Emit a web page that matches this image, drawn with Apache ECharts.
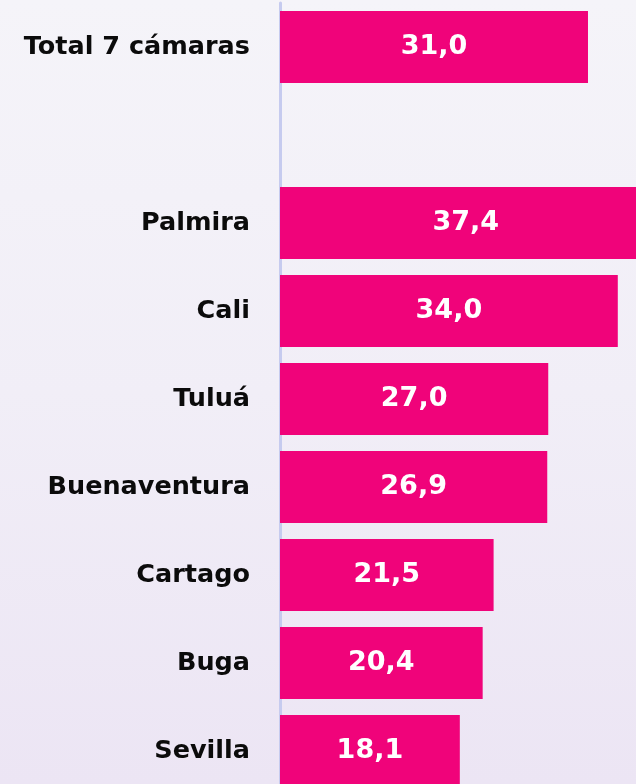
<!DOCTYPE html>
<html>
<head>
<meta charset="utf-8">
<script src="https://cdn.jsdelivr.net/npm/echarts@6/dist/echarts.min.js"></script>
<style>
  html, body { margin: 0; padding: 0; }
  body { width: 636px; height: 784px; background: linear-gradient(to bottom, #F5F4F9 0%, #F1EEF7 50%, #ECE5F4 100%); }
  #chart { width: 636px; height: 784px; }
</style>
</head>
<body>
<div id="chart"></div>
<script>
// Categories (top to bottom); the empty entry leaves a gap below the total
const categories = ['Total 7 cámaras', '', 'Palmira', 'Cali', 'Tuluá', 'Buenaventura', 'Cartago', 'Buga', 'Sevilla'];
const values = [31.0, null, 37.4, 34.0, 27.0, 26.9, 21.5, 20.4, 18.1];

const chart = echarts.init(document.getElementById('chart'), null, { renderer: 'canvas' });

const fmt = v => v.toFixed(1).replace('.', ',');

chart.setOption({
  backgroundColor: 'transparent',
  animation: false,
  grid: { left: 280, top: 3, width: 397.4, height: 792, containLabel: false, outerBoundsMode: 'none' },
  xAxis: {
    type: 'value', min: 0, max: 40,
    show: false
  },
  yAxis: {
    type: 'category',
    data: categories,
    inverse: true,
    axisLine: { show: true, lineStyle: { color: '#C6CBEF', width: 3 } },
    axisTick: { show: false },
    axisLabel: {
      margin: 30,
      color: '#0B0B0B',
      fontFamily: 'DejaVu Sans',
      fontWeight: 'bold',
      fontSize: 25.5
    }
  },
  series: [{
    type: 'bar',
    data: values,
    barCategoryGap: '18%',
    itemStyle: { color: '#F0037A' },
    label: {
      show: true,
      position: 'inside',
      color: '#FFFFFF',
      fontFamily: 'DejaVu Sans',
      fontWeight: 'bold',
      fontSize: 27,
      formatter: p => p.value == null ? '' : fmt(p.value)
    }
  }]
});
</script>
</body>
</html>
